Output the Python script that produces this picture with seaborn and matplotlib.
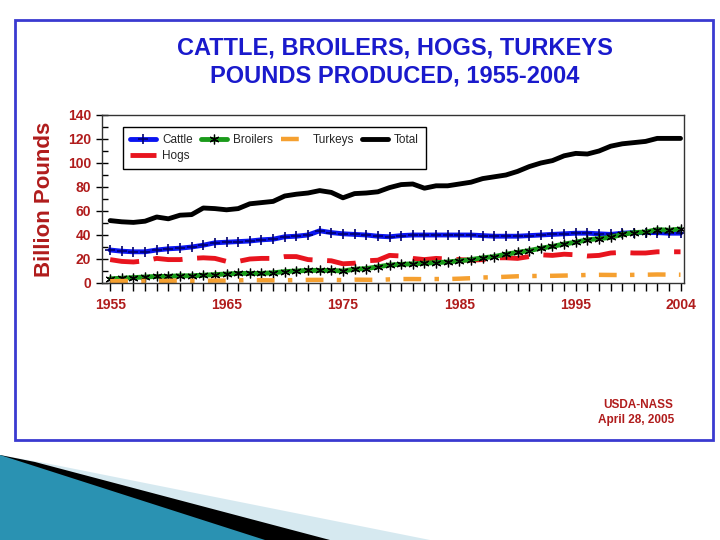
import numpy as np
import pandas as pd
import seaborn as sns
import matplotlib.pyplot as plt
from matplotlib.patches import Polygon, Rectangle
from matplotlib.ticker import MultipleLocator

years = list(range(1955, 2005))

cattle = [27.5, 26.5, 26, 26, 27.5, 28.5, 29, 30, 31.5, 33.5,
          34, 34.5, 35, 36, 36.5, 38.5, 39, 40, 43.5, 42,
          41, 40.5, 40, 39, 38.5, 39.5, 40, 40, 40, 40,
          40, 40, 39.5, 39, 39, 39, 39.5, 40, 40.5, 41,
          41.5, 41.5, 41, 40.5, 41.5, 42, 42, 42, 41.5, 41.5]
hogs = [19.5, 18, 17.5, 18.5, 20.5, 19.5, 19.5, 20.5, 21, 20.5,
        18, 18, 20, 20.5, 20.5, 22, 22, 19.5, 19, 18.5,
        16, 16.5, 18.5, 19, 23, 22.5, 20.5, 19.5, 20.5, 20,
        19.5, 19, 19.5, 21, 21, 20.5, 22, 23.5, 23, 24,
        23.5, 22.5, 23, 25, 25.5, 25, 25, 26, 26, 26]
broilers = [3.5, 4, 4.5, 5, 5.5, 5.5, 6, 6, 6.5, 7,
            7.5, 8, 8, 8, 8.5, 9.5, 10, 10.5, 10.5, 10.5,
            10, 11.5, 12, 13.5, 15, 15.5, 16, 16.5, 17, 17.5,
            18.5, 19.5, 21, 22, 24, 25.5, 27, 29, 30.5, 32.5,
            34, 36, 37, 38, 40.5, 42, 42.5, 44.5, 44, 45]
turkeys = [1.5, 1.6, 1.7, 1.7, 1.7, 1.7, 2.1, 1.8, 1.8, 2.0,
           2.0, 2.2, 2.5, 2.3, 2.2, 2.3, 2.4, 2.6, 2.6, 2.6,
           2.4, 2.8, 2.7, 2.6, 3.0, 3.3, 3.3, 3.2, 3.3, 3.3,
           3.6, 4.0, 4.6, 4.8, 5.2, 5.6, 5.8, 5.9, 6.0, 6.2,
           6.4, 6.7, 6.8, 6.7, 6.6, 6.8, 6.9, 7.1, 7.0, 6.9]
total = [52, 51, 50.5, 51.5, 55, 53.5, 56.5, 57, 62.5, 62,
         61, 62, 66, 67, 68, 72.5, 74, 75, 77, 75.5,
         71, 74.5, 75, 76, 79.5, 82, 82.5, 79, 81, 81,
         82.5, 84, 87, 88.5, 90, 93, 97, 100, 102, 106,
         108, 107.5, 110, 114, 116, 117, 118, 120.5, 120.5, 120.5]

label_years = [1955, 1965, 1975, 1985, 1995, 2004]

dark_red = '#b01c1c'
title_blue = '#1a1acc'

sns.set_style("ticks")
plt.rcParams['font.family'] = ['Liberation Sans', 'DejaVu Sans']

fig = plt.figure(figsize=(7.2, 5.4), dpi=100)
ax = fig.add_axes([102 / 720, 1 - 283 / 540, 582 / 720, 168 / 540])

# series order matches the legend layout (column-wise fill)
series = [
    ('Cattle', cattle, dict(color='#0a14f0', lw=3.5, marker='+', ms=7,
                            mew=1.2, mec='#000070')),
    ('Hogs', hogs, dict(color='#e8141e', lw=3.5, linestyle=(0, (6, 3)))),
    ('Broilers', broilers, dict(color='#1a9a1a', lw=3.5, marker=(6, 2, 0),
                                ms=7, mew=0.9, mec='black')),
    ('Turkeys', turkeys, dict(color='#f5a030', lw=3.2,
                              linestyle=(0, (4, 3, 1, 3)))),
    ('Total', total, dict(color='black', lw=3.5)),
]

for name, vals, kw in series:
    sns.lineplot(x=years, y=vals, ax=ax, label=name, **kw)

ax.set_xlim(1954.3, 2004.3)
ax.set_ylim(0, 140)
ax.set_xticks(years)
ax.set_xticklabels([str(y) if y in label_years else '' for y in years])
ax.yaxis.set_major_locator(MultipleLocator(20))
ax.yaxis.set_minor_locator(MultipleLocator(10))
ax.tick_params(axis='x', direction='out', length=6, width=1, colors='black',
               labelcolor=dark_red, labelsize=10, pad=5)
ax.tick_params(axis='y', which='major', direction='inout', length=9, width=1,
               colors='black', labelcolor=dark_red, labelsize=10)
ax.tick_params(axis='y', which='minor', direction='in', length=4, width=1,
               colors='black')
for lab in ax.get_xticklabels() + ax.get_yticklabels():
    lab.set_fontweight('bold')
for sp in ax.spines.values():
    sp.set_visible(True)
    sp.set_color('#333333')
    sp.set_linewidth(1)
ax.set_xlabel('')
ax.set_ylabel('')

handles, labels = ax.get_legend_handles_labels()
ax.legend(handles, labels, ncol=4, loc='upper left',
          bbox_to_anchor=((123 - 102) / 582, (283 - 127) / 168),
          borderaxespad=0, frameon=True, fancybox=False, framealpha=1,
          edgecolor='black', fontsize=8.5, handlelength=2.2,
          columnspacing=0.7, handletextpad=0.5, labelspacing=0.35,
          borderpad=0.6)

fig.text(0.548, 1 - 62 / 540,
         'CATTLE, BROILERS, HOGS, TURKEYS\nPOUNDS PRODUCED, 1955-2004',
         ha='center', va='center', fontsize=17, fontweight='bold',
         color=title_blue, linespacing=1.3)
fig.text(45 / 720, 1 - 199 / 540, 'Billion Pounds', rotation=90,
         ha='center', va='center', fontsize=16, fontweight='bold',
         color=dark_red)
fig.text(638 / 720, 1 - 405 / 540, 'USDA-NASS', ha='center', va='center',
         fontsize=8.5, fontweight='bold', color=dark_red)
fig.text(636 / 720, 1 - 420 / 540, 'April 28, 2005', ha='center',
         va='center', fontsize=8.5, fontweight='bold', color=dark_red)

# outer slide frame
fig.patches.append(Rectangle((15 / 720, 1 - 440 / 540), 698 / 720, 420 / 540,
                             transform=fig.transFigure, fill=False,
                             edgecolor='#3a3ad0', lw=2))


def px(points):
    return [(x / 720, 1 - y / 540) for x, y in points]


# bottom swoosh decoration
fig.patches.append(Polygon(px([(0, 455), (45, 463), (430, 540), (0, 540)]),
                           transform=fig.transFigure, color='#d6e9f0', lw=0))
fig.patches.append(Polygon(px([(0, 455), (35, 462), (330, 540), (0, 540)]),
                           transform=fig.transFigure, color='black', lw=0))
fig.patches.append(Polygon(px([(0, 455), (265, 540), (0, 540)]),
                           transform=fig.transFigure, color='#2a92b2', lw=0))

fig.savefig('out.png', dpi=100)
